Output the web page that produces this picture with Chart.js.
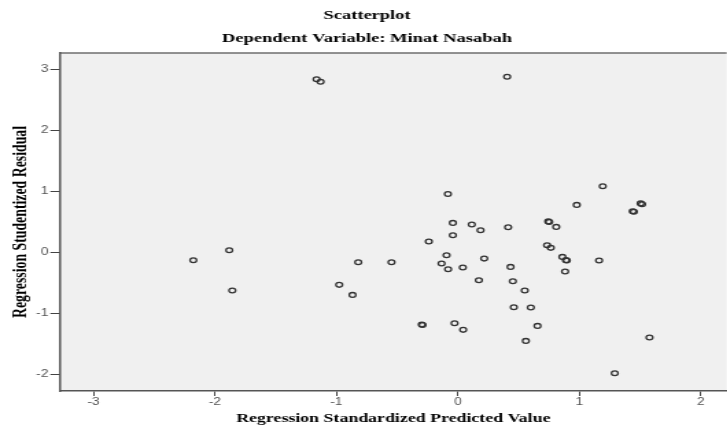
<!DOCTYPE html>
<html>
<head>
<meta charset="utf-8">
<script src="https://cdn.jsdelivr.net/npm/chart.js@4"></script>
<style>
	html, body { margin: 0; padding: 0; background: #fff; }
	#wrap { width: 727px; height: 429px; overflow: hidden; }
</style>
</head>
<body>
<div id="wrap">
	<!-- the source picture is stretched sideways, so the canvas is drawn narrow and widened by css -->
	<canvas id="scatter_chart" width="535" height="429" style="width:734px;height:429px"></canvas>
</div>
<script>
// Texts
const chartTitle = 'Scatterplot',
	chartSubtitle = 'Dependent Variable: Minat Nasabah',
	xAxisTitle = 'Regression Standardized Predicted Value',
	yAxisTitle = 'Regression Studentized Residual';

// Tick labels
const xTicks = [-3, -2, -1, 0, 1, 2],
	yTicks = [-2, -1, 0, 1, 2, 3];

// Axis ranges
const xRange = [-3.276, 2.214],
	yRange = [-2.27, 3.27];

// Points (x = standardized predicted, y = studentized residual)
const predicted = [
	-2.178, -1.882, -1.857, -1.163, -1.130, -0.977, -0.867, -0.820, -0.546, -0.297,
	-0.291, -0.239, -0.134, -0.093, -0.082, -0.080, -0.041, -0.041, -0.027, 0.041,
	0.044, 0.115, 0.173, 0.187, 0.217, 0.406, 0.414, 0.434, 0.453, 0.461,
	0.551, 0.560, 0.601, 0.656, 0.735, 0.745, 0.752, 0.765, 0.810, 0.861,
	0.883, 0.890, 0.897, 0.979, 1.163, 1.193, 1.292, 1.440, 1.449, 1.505,
	1.517, 1.578
];
const residual = [
	-0.126, 0.038, -0.623, 2.840, 2.800, -0.530, -0.695, -0.159, -0.159, -1.180,
	-1.187, 0.180, -0.180, -0.044, 0.960, -0.274, 0.485, 0.284, -1.159, -0.246,
	-1.268, 0.460, -0.454, 0.366, -0.100, 2.880, 0.415, -0.236, -0.470, -0.897,
	-0.623, -1.449, -0.902, -1.203, 0.120, 0.510, 0.500, 0.076, 0.420, -0.072,
	-0.312, -0.125, -0.131, 0.780, -0.131, 1.087, -1.979, 0.675, 0.667, 0.805,
	0.790, -1.393
];

const serif = "'Liberation Serif', 'Times New Roman', serif",
	sans = "'Liberation Sans', Arial, sans-serif";

// grey plot area + top frame line
const plotBackground = {
	id: 'plotBackground',
	beforeDraw(chart) {
		const {ctx, chartArea: {left, top, right, bottom}} = chart;
		ctx.save();
		ctx.fillStyle = '#f0f0f0';
		ctx.fillRect(left, top, right - left, bottom - top);
		ctx.strokeStyle = '#6e6e6e';
		ctx.lineWidth = 1.5;
		ctx.beginPath();
		ctx.moveTo(left, top);
		ctx.lineTo(right, top);
		ctx.stroke();
		ctx.restore();
	}
};

const points = predicted.map((x, i) => ({x: x, y: residual[i]}));

const ctx = document.getElementById('scatter_chart');
new Chart(ctx, {
	type: 'scatter',
	data: {
		datasets: [{
			data: points,
			pointStyle: 'circle',
			pointRadius: 2.4,
			borderWidth: 1.3,
			borderColor: '#333',
			backgroundColor: 'rgba(0,0,0,0)'
		}]
	},
	plugins: [plotBackground],
	options: {
		responsive: false,
		animation: false,
		layout: { padding: 0 },
		plugins: {
			legend: { display: false },
			tooltip: { enabled: false },
			title: {
				display: true,
				text: chartTitle,
				color: '#000',
				font: { family: serif, size: 13.5, weight: 'bold' },
				padding: { top: 7, bottom: 4 }
			},
			subtitle: {
				display: true,
				text: chartSubtitle,
				color: '#000',
				font: { family: serif, size: 13.5, weight: 'bold' },
				padding: { top: 3.5, bottom: 6.1 }
			}
		},
		scales: {
			x: {
				type: 'linear',
				min: xRange[0],
				max: xRange[1],
				afterBuildTicks: (axis) => { axis.ticks = xTicks.map(v => ({value: v})); },
				afterFit: (axis) => { axis.height = 38; },
				grid: {
					drawOnChartArea: false,
					drawTicks: true,
					tickLength: 5,
					tickColor: '#444',
					tickWidth: 1
				},
				border: { color: '#555', width: 1.5 },
				ticks: {
					color: '#555',
					font: { family: sans, size: 10 },
					padding: 0,
					maxRotation: 0
				},
				title: {
					display: true,
					text: xAxisTitle,
					color: '#000',
					font: { family: serif, size: 13, weight: 'bold' },
					padding: { top: 0, bottom: 3 }
				}
			},
			y: {
				type: 'linear',
				min: yRange[0],
				max: yRange[1],
				afterBuildTicks: (axis) => { axis.ticks = yTicks.map(v => ({value: v})); },
				afterFit: (axis) => { axis.width = 43.7; },
				grid: {
					drawOnChartArea: false,
					drawTicks: true,
					tickLength: 7,
					tickColor: '#444',
					tickWidth: 1
				},
				border: { color: '#555', width: 1.5 },
				ticks: {
					color: '#555',
					font: { family: sans, size: 10 },
					padding: 1.5
				},
				title: {
					display: true,
					text: yAxisTitle,
					color: '#000',
					font: { family: serif, size: 13.8, weight: 'bold' },
					padding: { top: 7.5, bottom: 0 }
				}
			}
		}
	}
});
</script>
</body>
</html>
